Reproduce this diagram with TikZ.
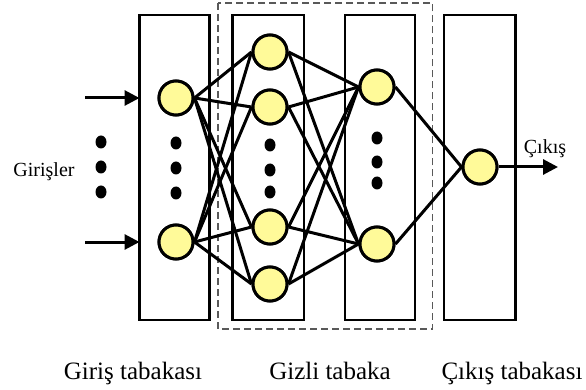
\documentclass[tikz,border=0pt]{standalone}
\usepackage{fontspec}
\setmainfont{Liberation Serif}
\usetikzlibrary{arrows.meta}
\begin{document}
\begin{tikzpicture}[x=1pt,y=-1pt,
  layerbox/.style={draw=black,line width=2.4pt},
  neuron/.style={circle,draw=black,line width=3pt,fill=yellow!40,minimum size=34pt,inner sep=0pt},
  conn/.style={line width=3pt},
  dotmark/.style={fill=black},
  arr/.style={line width=3pt,-{Triangle[length=15pt,width=15pt]}},
  lbl/.style={font=\fontsize{25}{28}\selectfont,anchor=base},
  slbl/.style={font=\fontsize{20}{23}\selectfont,anchor=base}]
\useasboundingbox (0,0) rectangle (586,390);
% dashed hidden region
\draw[gray!70!black,line width=1.3pt,dash pattern=on 7pt off 4pt] (218,3) rectangle (432.5,329);
% layer boxes
\draw[layerbox] (139.5,15) rectangle (209.5,320);
\draw[layerbox] (232.5,15) rectangle (304,320);
\draw[layerbox] (345,15) rectangle (415,320);
\draw[layerbox] (444,15) rectangle (515.5,320);
% neurons
\node[neuron] (i1) at (176,98) {};
\node[neuron] (i2) at (176,242) {};
\node[neuron] (h1) at (270,52) {};
\node[neuron] (h2) at (270,107) {};
\node[neuron] (h3) at (270,227) {};
\node[neuron] (h4) at (270,284) {};
\node[neuron] (g1) at (377,87) {};
\node[neuron] (g2) at (377,244) {};
\node[neuron] (o) at (480,167) {};
% connections
\foreach \a in {i1,i2}{\foreach \b in {h1,h2,h3,h4}{\draw[conn] (\a.east) -- (\b.west);}}
\foreach \a in {h1,h2,h3,h4}{\foreach \b in {g1,g2}{\draw[conn] (\a.east) -- (\b.west);}}
\foreach \a in {g1,g2}{\draw[conn] (\a.east) -- (o.west);}
% redraw neurons on top
\foreach \x/\y in {176/98,176/242,270/52,270/107,270/227,270/284,377/87,377/244,480/167}{
  \node[neuron] at (\x,\y) {};}
% dots
\foreach \y in {142,167,192}{\fill[dotmark] (101,\y) ellipse (5.5 and 6.5);}
\foreach \y in {143,168,193}{\fill[dotmark] (176,\y) ellipse (5.5 and 6.5);}
\foreach \y in {145,170,192}{\fill[dotmark] (270,\y) ellipse (5.5 and 6.5);}
\foreach \y in {138,162,183}{\fill[dotmark] (377,\y) ellipse (5.5 and 6.5);}
% input/output arrows
\coordinate (in1) at (85,98);
\coordinate (in1e) at (139.5,98);
\coordinate (in2) at (85,242);
\coordinate (in2e) at (139.5,242);
\coordinate (oute) at (558,167);
\draw[arr] (in1) -- (in1e);
\draw[arr] (in2) -- (in2e);
\draw[arr] (o.east) -- (oute);
% labels
\node[slbl] (lin) at (44,177) {Girişler};
\node[slbl] (lout) at (545,154) {Çıkış};
\node[lbl] (l1) at (133,379) {Giriş tabakası};
\node[lbl] (l2) at (330,379) {Gizli tabaka};
\node[lbl] (l3) at (512,379) {Çıkış tabakası};
\end{tikzpicture}
\end{document}
